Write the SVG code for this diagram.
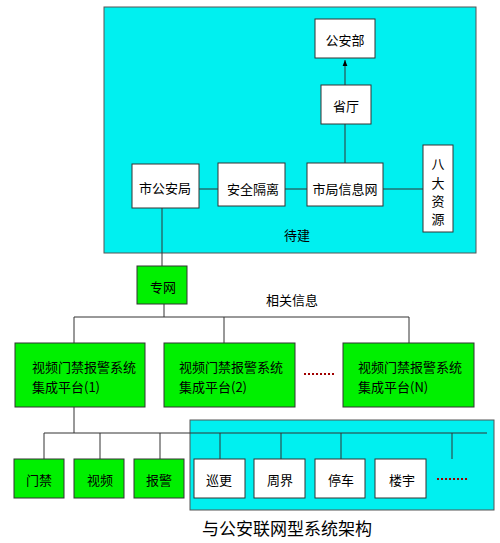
<svg xmlns="http://www.w3.org/2000/svg" width="500" height="543" viewBox="0 0 500 543">
<style>
text{font-family:"Noto Sans CJK SC","Liberation Serif",serif;font-size:13px;fill:#000;text-anchor:middle;dominant-baseline:central}
.w{fill:#fff;stroke:#333;stroke-width:1}
.g{fill:#00f000;stroke:#333;stroke-width:1}
.c{fill:#00f0f0;stroke:#555;stroke-width:1}
.l{stroke:#333;stroke-width:1;fill:none}
.d{fill:none;stroke:#a00000;stroke-width:2;stroke-dasharray:2 2}
</style>
<defs><marker id="a" viewBox="0 0 10 10" refX="10" refY="5" markerWidth="6" markerHeight="8" orient="auto"><path d="M0,1L10,5L0,9Z" fill="#000"/></marker></defs>
<rect class="c" x="104" y="7" width="372" height="246"/>
<rect class="c" x="190" y="420" width="304" height="90"/>
<g id="connectors">
<path class="l" d="M345,85V60" marker-end="url(#a)"/>
<path class="l" d="M345,124V163"/>
<path class="l" d="M199,189H218M285,189H307M383,189H423"/>
<path class="l" d="M162,208V266"/>
<path class="l" d="M164,304V317M74,317H409M74,317V343M224,317V343M409,317V343"/>
<path class="l" d="M74,407V433M44,433H487M44,433V459M100,433V459M160,433V459M220,433V459M281,433V459M341,433V459M452,433V459"/>
</g>
<g id="gab"><rect class="w" x="315" y="19" width="60" height="39"/><text x="345" y="39">公安部</text></g>
<g id="st"><rect class="w" x="321" y="85" width="50" height="39"/><text x="346" y="105">省厅</text></g>
<g id="sgaj"><rect class="w" x="132" y="164" width="67" height="44"/><text x="165" y="187">市公安局</text></g>
<g id="aqgl"><rect class="w" x="218" y="163" width="67" height="43"/><text x="253" y="188">安全隔离</text></g>
<g id="sjxxw"><rect class="w" x="307" y="163" width="76" height="43"/><text x="345" y="188">市局信息网</text></g>
<g id="bdzy"><rect class="w" x="423" y="145" width="30" height="87"/><text x="438" y="163">八</text><text x="438" y="182">大</text><text x="438" y="200">资</text><text x="438" y="218">源</text></g>
<text x="297" y="234">待建</text>
<g id="zw"><rect class="g" x="137" y="266" width="50" height="38"/><text x="163" y="286">专网</text></g>
<text x="292" y="299">相关信息</text>
<g id="p1"><rect class="g" x="15" y="343" width="130" height="64"/><text x="32" y="366" style="text-anchor:start">视频门禁报警系统</text><text x="32" y="386" style="text-anchor:start">集成平台(1)</text></g>
<g id="p2"><rect class="g" x="164" y="343" width="131" height="64"/><text x="179" y="366" style="text-anchor:start">视频门禁报警系统</text><text x="179" y="386" style="text-anchor:start">集成平台(2)</text></g>
<path class="d" d="M304,374H334"/>
<g id="pn"><rect class="g" x="343" y="343" width="131" height="64"/><text x="358" y="366" style="text-anchor:start">视频门禁报警系统</text><text x="358" y="386" style="text-anchor:start">集成平台(N)</text></g>
<g id="mj"><rect class="g" x="14" y="459" width="50" height="39"/><text x="39" y="479">门禁</text></g>
<g id="sp"><rect class="g" x="74" y="459" width="50" height="39"/><text x="100" y="479">视频</text></g>
<g id="bj"><rect class="g" x="134" y="459" width="50" height="39"/><text x="159" y="479">报警</text></g>
<g id="xg"><rect class="w" x="194" y="459" width="51" height="39"/><text x="219" y="479">巡更</text></g>
<g id="zj"><rect class="w" x="254" y="459" width="51" height="39"/><text x="280" y="479">周界</text></g>
<g id="tc"><rect class="w" x="315" y="459" width="50" height="39"/><text x="341" y="479">停车</text></g>
<g id="ly"><rect class="w" x="375" y="459" width="51" height="39"/><text x="402" y="479">楼宇</text></g>
<path class="d" d="M437,479H467"/>
<text x="287" y="527" style="font-size:17px">与公安联网型系统架构</text>
</svg>
